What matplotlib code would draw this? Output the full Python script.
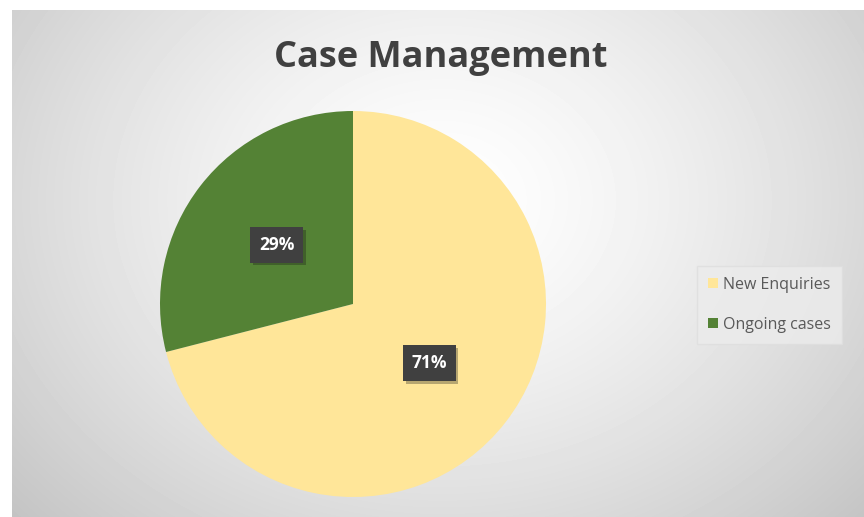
import numpy as np
import matplotlib.pyplot as plt
import matplotlib.patheffects as pe

# Data
labels = ['New Enquiries', 'Ongoing cases']
shares = [71, 29]
colors = ['#FFE699', '#548235']

fig = plt.figure(figsize=(8.64, 5.17), dpi=100)
fig.patch.set_facecolor('white')

# gradient background of the chart area
bg = fig.add_axes([12 / 864, 0, 852 / 864, 507 / 517])
yy, xx = np.mgrid[0:507, 0:852]
d = np.sqrt(((xx - 430) / 520.0) ** 2 + ((yy - 190) / 420.0) ** 2)
shade = 1.0 - 0.2 * d ** 1.4
bg.imshow(shade, cmap='gray', vmin=0, vmax=1, aspect='auto', interpolation='bilinear')
bg.axis('off')

ax = fig.add_axes([(353 - 200) / 864, (517 - 304 - 200) / 517, 400 / 864, 400 / 517])
wedges, _, autotexts = ax.pie(shares, colors=colors, startangle=90, counterclock=False,
                              autopct='%1.0f%%', pctdistance=0.5, radius=193 / 200,
                              wedgeprops=dict(linewidth=0))
ax.set_xlim(-1, 1)
ax.set_ylim(-1, 1)
ax.set_aspect('auto')

for t in autotexts:
    t.set_color('white')
    t.set_fontsize(12.5)
    t.set_fontweight('bold')
    t.set_family('Open Sans')
    t.set_bbox(dict(facecolor='#404040', edgecolor='none', boxstyle='square,pad=0.5'))
    t.get_bbox_patch().set_path_effects([pe.withSimplePatchShadow(offset=(2, -2), alpha=0.3)])

fig.text(441 / 864, 1 - 58 / 517, 'Case Management', ha='center', va='center',
         fontsize=26, fontweight='bold', color='#404040', family='Open Sans')

leg = fig.legend(wedges, labels, loc='center left', bbox_to_anchor=(689 / 864, 1 - 305 / 517),
                 frameon=True, fontsize=11.5, handlelength=0.6, handleheight=0.6,
                 handletextpad=0.35, labelspacing=1.5, borderpad=0.7, fancybox=False)
leg.get_frame().set_facecolor('#ececec')
leg.get_frame().set_edgecolor('#dedede')
leg.get_frame().set_alpha(0.8)
for t in leg.get_texts():
    t.set_color('#595959')
    t.set_family('Open Sans')

fig.savefig('out.png', dpi=100)
